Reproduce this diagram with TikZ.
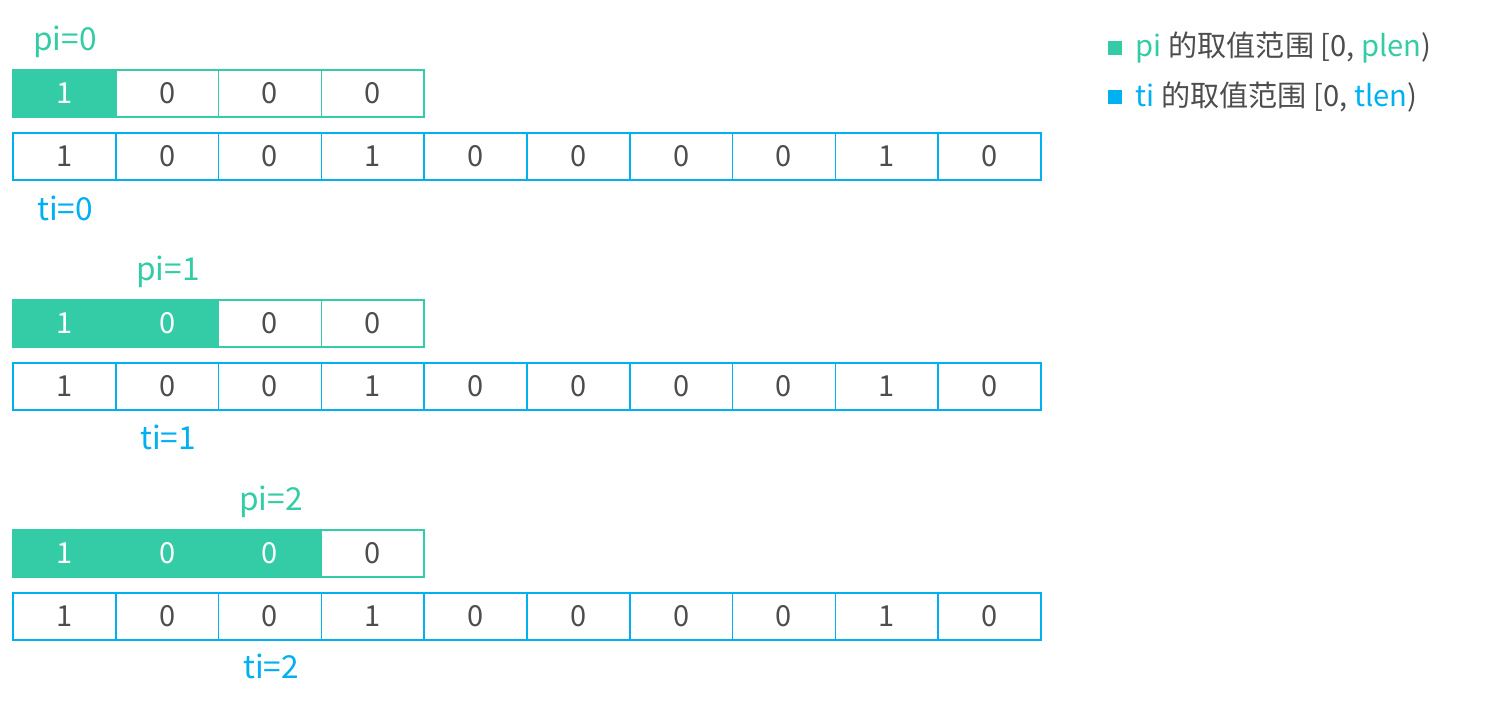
\documentclass[tikz,border=0pt]{standalone}
\usepackage{fontspec}
\setmainfont{Noto Sans CJK SC}
\usetikzlibrary{positioning}
\definecolor{pgreen}{HTML}{33CCA6}
\definecolor{tblue}{HTML}{00B0F0}
\definecolor{numgray}{HTML}{4D4D4D}
\tikzset{
  cell/.style={minimum width=2.056cm, minimum height=0.93cm, inner sep=0pt, outer sep=0pt,
    line width=0.9pt, text=numgray, font=\fontsize{16.5}{19}\selectfont},
  pcell/.style={cell, draw=pgreen},
  pfill/.style={cell, draw=pgreen, fill=pgreen, text=white},
  tcell/.style={cell, draw=tblue},
  plabel/.style={text=pgreen, font=\fontsize{18}{21}\selectfont},
  tlabel/.style={text=tblue, font=\fontsize{18}{21}\selectfont},
  legsq/.style={minimum size=0.28cm, inner sep=0pt},
  legtext/.style={text=numgray, font=\fontsize{16.6}{19}\selectfont, inner sep=0pt}
}
\begin{document}
\begin{tikzpicture}[x=0.02cm, y=-0.02cm]
  \useasboundingbox (0,0) rectangle (1508,703);

  % three steps of the match
  \foreach \g in {0,1,2} {
    \pgfmathsetmacro{\ptop}{93.5+230*\g}
    \pgfmathsetmacro{\ttop}{156.5+230*\g}
    % pattern row
    \foreach \v [count=\i from 0] in {1,0,0,0} {
      \ifnum\i>\g \def\st{pcell}\else\def\st{pfill}\fi
      \node[\st] (p\g-\i) at (64.4+102.8*\i, \ptop) {\v};
    }
    % text row
    \foreach \v [count=\i from 0] in {1,0,0,1,0,0,0,0,1,0} {
      \node[tcell] (t\g-\i) at (64.4+102.8*\i, \ttop) {\v};
    }
    \node[plabel] (pi\g) at (65+103*\g, 42+230*\g) {pi=\g};
    \node[tlabel] (ti\g) at (65+103*\g, 208+229*\g) {ti=\g};
  }

  % legend
  \node[legsq, fill=pgreen] (sqp) at (1115,48) {};
  \node[legtext, right=0.26cm of sqp] (legp)
    {{\color{pgreen}pi} 的取值范围 [0, {\color{pgreen}plen})};
  \node[legsq, fill=tblue] (sqt) at (1115,97) {};
  \node[legtext, right=0.26cm of sqt] (legt)
    {{\color{tblue}ti} 的取值范围 [0, {\color{tblue}tlen})};
\end{tikzpicture}
\end{document}
